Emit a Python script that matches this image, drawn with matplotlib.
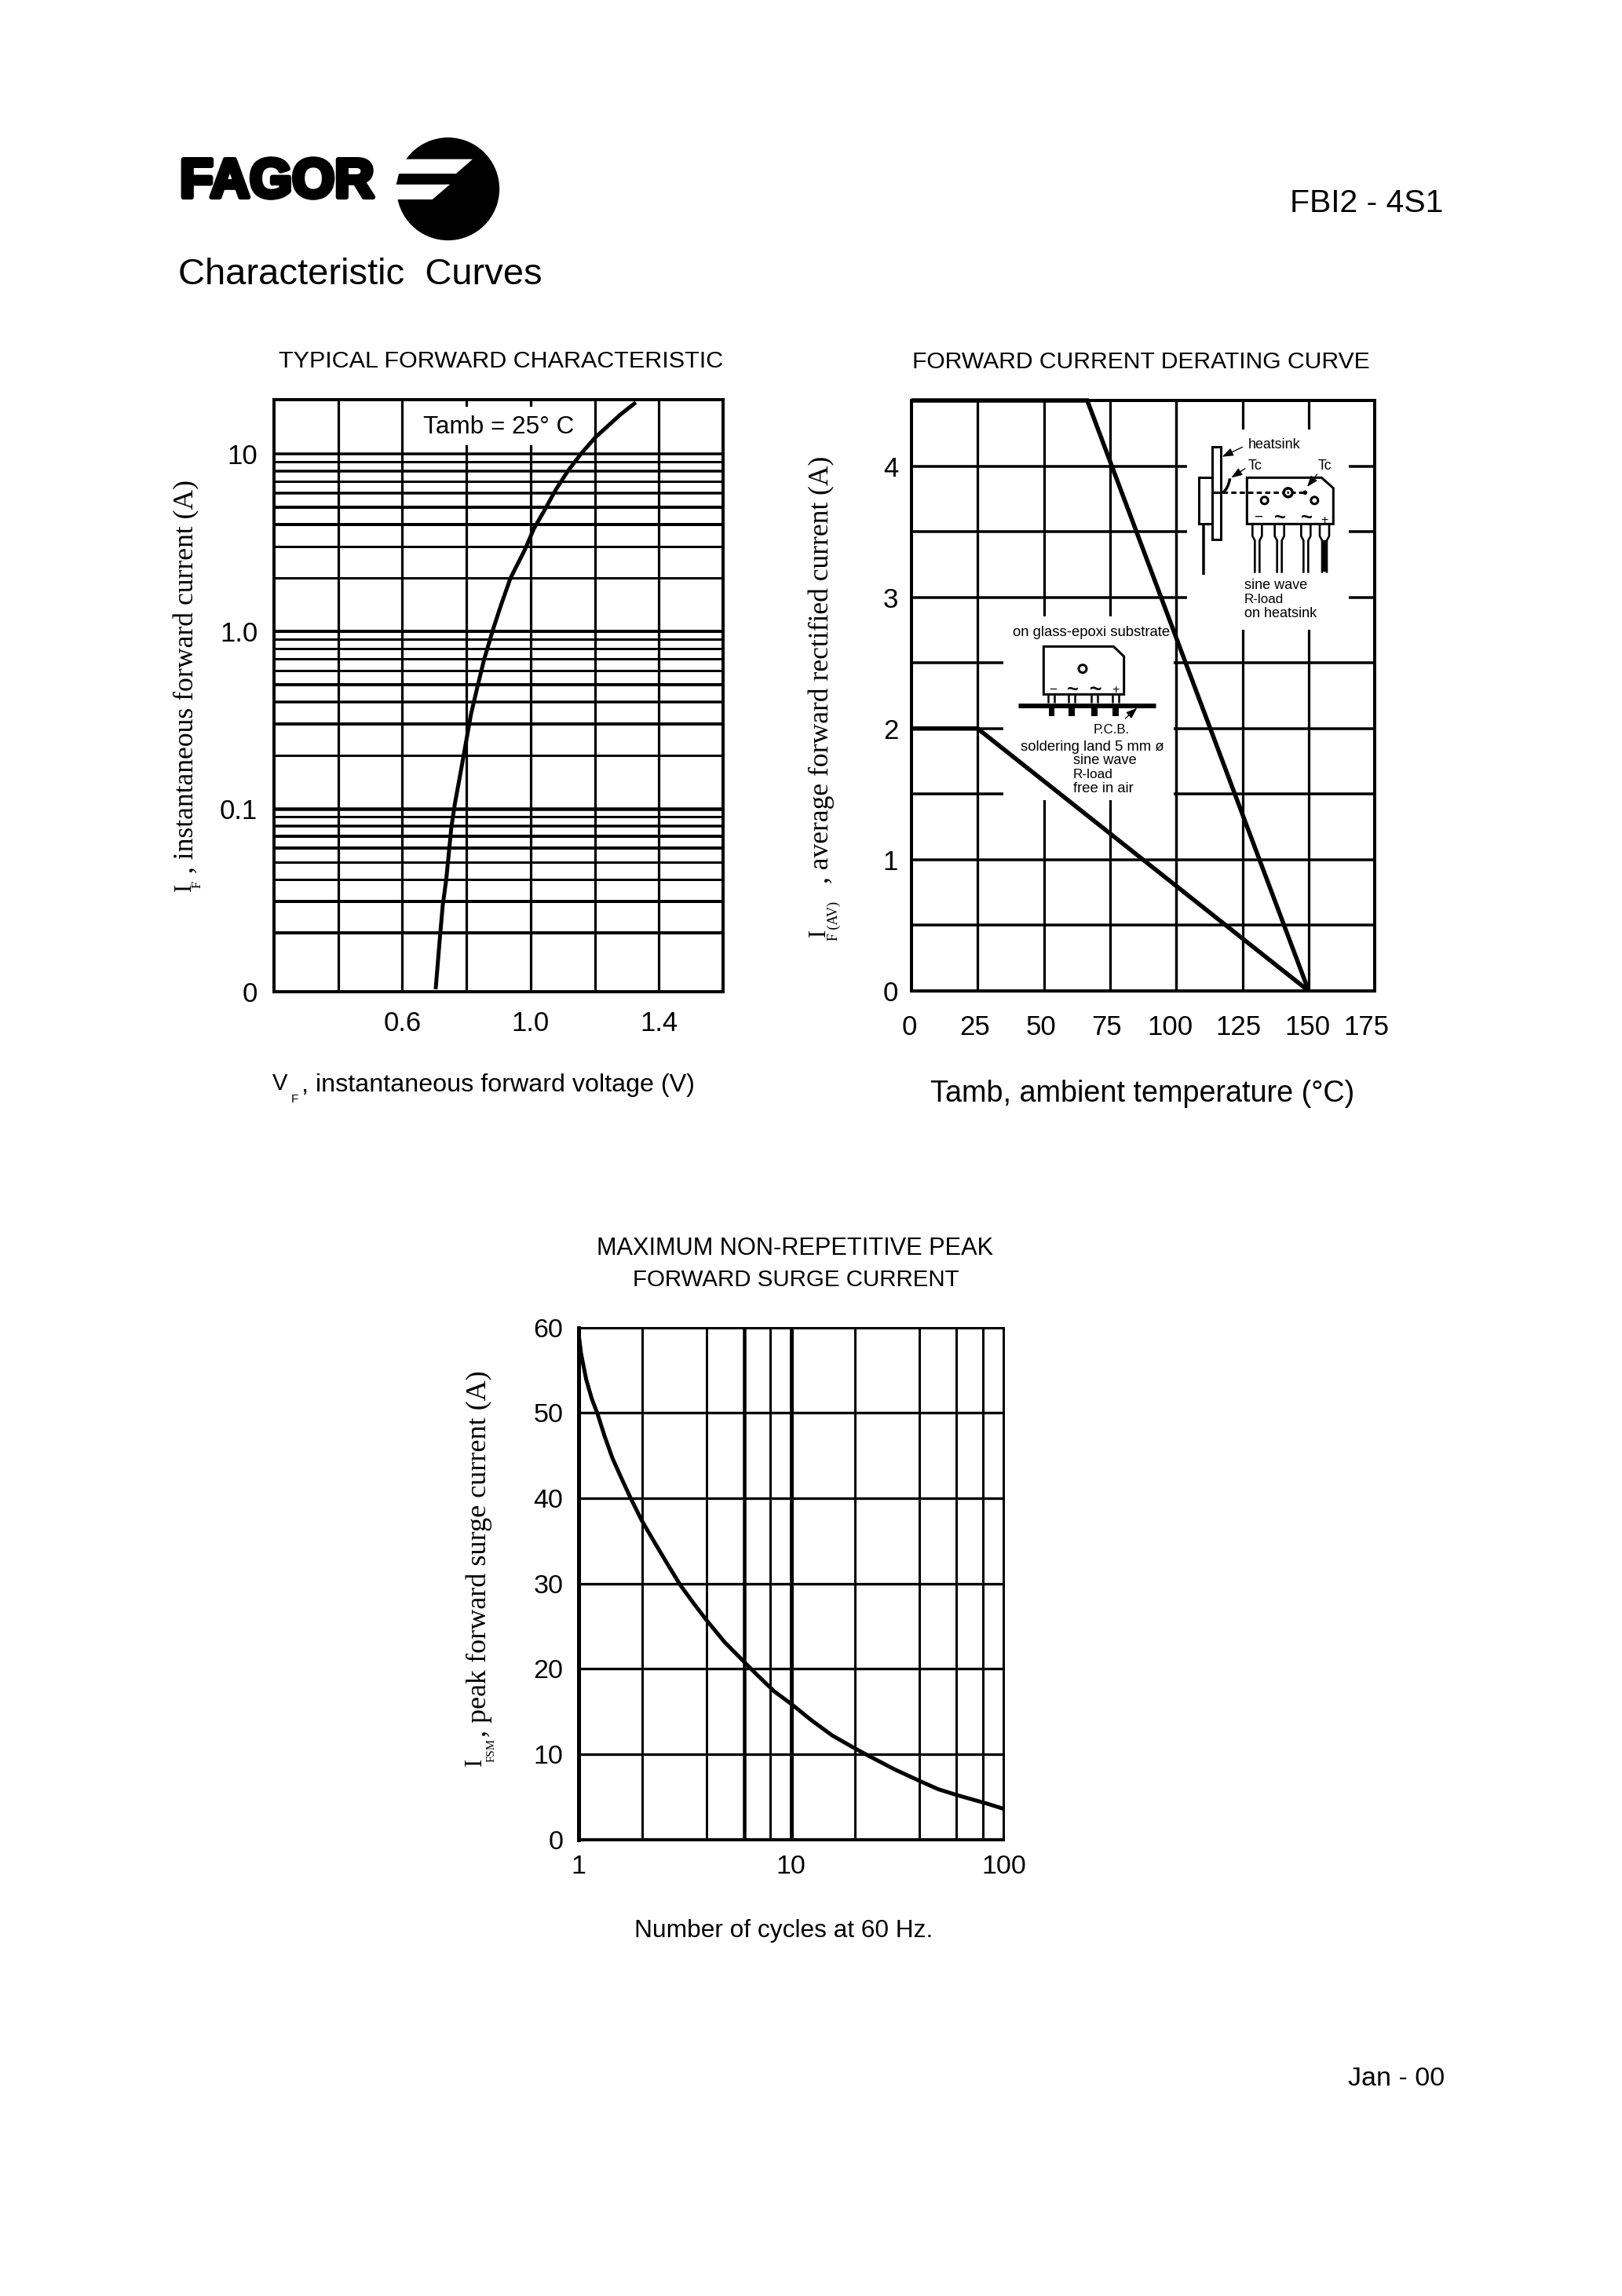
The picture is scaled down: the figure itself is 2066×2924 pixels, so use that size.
import matplotlib
matplotlib.use("Agg")
import matplotlib.pyplot as plt
from matplotlib.patches import Rectangle, Polygon, Circle, PathPatch
from matplotlib.path import Path
from matplotlib.transforms import Affine2D
import matplotlib.patheffects as pe

W, H = 2066, 2924
SANS = "Liberation Sans"
SERIF = "Liberation Serif"

# ---- data: forward characteristic
vf_volts = [0.704, 0.716, 0.726, 0.737, 0.745, 0.753, 0.764, 0.782, 0.798, 0.814, 0.835,
            0.855, 0.884, 0.908, 0.937, 0.982, 1.01, 1.043, 1.079, 1.116, 1.157, 1.202,
            1.238, 1.279, 1.328]
if_amps = [0.0096, 0.0177, 0.0285, 0.04, 0.0561, 0.0789, 0.107, 0.161, 0.234, 0.34, 0.493,
           0.693, 1.04, 1.41, 1.99, 2.88, 3.78, 4.8, 6.3, 8.0, 10, 12.4,
           14.2, 16.6, 19.5]
fwd_x_grid = [0.4, 0.6, 0.8, 1.0, 1.2, 1.4]
fwd_y_grid = [10, 9, 8, 7, 6, 5, 4, 3, 2, 1, .9, .8, .7, .6, .5, .4, .3, .2,
              .1, .09, .08, .07, .06, .05, .04, .03, .02]
fwd_y_grid_px = [3.5, 3, 3.5, 3, 3.5, 4, 4, 3, 3, 4, 3, 3, 3, 3, 4, 3.5, 4, 3,
                 4.5, 3, 3.5, 4, 4, 3, 3, 4, 4]
fwd_xticks = [0.6, 1.0, 1.4]
fwd_xticklabels = ["0.6", "1.0", "1.4"]
fwd_yticks = [10, 1, 0.1, 0.0093]
fwd_yticklabels = ["10", "1.0", "0.1", "0"]

# ---- data: derating
heatsink_temp = [0, 66.4, 150]
heatsink_amps = [4.5, 4.5, 0]
free_air_temp = [0, 25, 150]
free_air_amps = [2, 2, 0]
der_x_ticks = [0, 25, 50, 75, 100, 125, 150, 175]
der_x_label_px = [1158, 1242, 1326, 1410, 1490, 1577, 1665, 1740]
der_y_grid = [.5, 1, 1.5, 2, 2.5, 3, 3.5, 4]
der_y_ticks = [0, 1, 2, 3, 4]

# ---- data: surge
cycles = [1, 1.026, 1.086, 1.155, 1.227, 1.324, 1.442, 1.593, 1.758, 1.98, 2.267, 2.616,
          3.014, 3.472, 4.0, 4.877, 6.02, 6.85, 8.29, 10, 12.43, 15.6, 19.9, 23.2, 30.8,
          40, 49.2, 60.5, 83.8, 100]
surge_amps = [59.3, 57.0, 53.9, 51.6, 49.9, 47.3, 44.7, 42.3, 40.0, 37.4, 34.9, 32.3,
              29.8, 27.7, 25.7, 23.1, 20.8, 19.4, 17.4, 15.9, 14.0, 12.2, 10.7, 9.8, 8.2,
              6.9, 5.9, 5.2, 4.2, 3.6]
surge_x_grid = [2, 4, 6, 8, 10, 20, 40, 60, 80]
surge_x_grid_px = [3, 3, 4.5, 3, 5, 3, 3, 3, 3]
surge_y_ticks = [0, 10, 20, 30, 40, 50, 60]
surge_x_ticks = [1, 10, 100]

fig = plt.figure(figsize=(W / 100, H / 100), dpi=100, facecolor="white")
renderer = fig.canvas.get_renderer()


def pt(px):
    return px * 72 / 100


def make_ax(x0, x1, y0, y1):
    a = fig.add_axes([x0 / W, 1 - y1 / H, (x1 - x0) / W, (y1 - y0) / H])
    for s in a.spines.values():
        s.set_linewidth(pt(4))
        s.set_zorder(2.5)
    return a


def style_ticks(a, padx, pady, size=25):
    a.tick_params(axis="both", which="both", length=0, labelsize=size)
    a.tick_params(axis="x", pad=padx)
    a.tick_params(axis="y", pad=pady)
    for lab in a.get_xticklabels() + a.get_yticklabels():
        lab.set_fontfamily(SANS)


# ---------- forward characteristic
ax1 = make_ax(349, 921, 508.5, 1263)
ax1.set_yscale("log")
ax1.set_xlim(0.2, 1.6)
ax1.set_ylim(0.0093, 20.3)
for v in fwd_x_grid:
    ax1.axvline(v, color="k", lw=pt(3.2), zorder=1)
for v, w in zip(fwd_y_grid, fwd_y_grid_px):
    ax1.axhline(v, color="k", lw=pt(w), zorder=1)
ax1.add_patch(Rectangle((520, H - 567), 232, 49, transform=None, fc="white", ec="none", zorder=2))
ax1.plot(vf_volts, if_amps, color="k", lw=pt(5), zorder=3, solid_capstyle="butt")
ax1.set_xticks(fwd_xticks, fwd_xticklabels)
ax1.set_yticks(fwd_yticks, fwd_yticklabels)
ax1.minorticks_off()
style_ticks(ax1, 17, 15)

# ---------- derating
ax2 = make_ax(1160.8, 1751.3, 510, 1262)
ax2.set_xlim(0, 175)
ax2.set_ylim(0, 4.5)
for v in der_x_ticks[1:-1]:
    ax2.axvline(v, color="k", lw=pt(3.2), zorder=1)
for v in der_y_grid:
    ax2.axhline(v, color="k", lw=pt(3.5), zorder=1)
ax2.add_patch(Rectangle((1512, H - 802), 206, 255, transform=None, fc="white", ec="none", zorder=2))
ax2.add_patch(Rectangle((1278, H - 1019), 217, 234, transform=None, fc="white", ec="none", zorder=2))
ax2.axvline(100, color="k", lw=pt(3.2), zorder=2.2)
ax2.plot(heatsink_temp, heatsink_amps, color="k", lw=pt(5.5), zorder=3, clip_on=False,
         solid_joinstyle="miter", solid_capstyle="butt")
ax2.plot(free_air_temp, free_air_amps, color="k", lw=pt(5.5), zorder=3,
         solid_joinstyle="miter", solid_capstyle="butt")
ax2.set_xticks(der_x_ticks, [""] * len(der_x_ticks))
ax2.set_yticks(der_y_ticks, [str(v) for v in der_y_ticks])
style_ticks(ax2, 20, 12)

# ---------- surge
ax3 = make_ax(737, 1278.4, 1690.6, 2342.7)
ax3.set_xscale("log")
ax3.set_xlim(1, 100)
ax3.set_ylim(0, 60)
for v, w in zip(surge_x_grid, surge_x_grid_px):
    ax3.axvline(v, color="k", lw=pt(w), zorder=1)
for v in surge_y_ticks[1:-1]:
    ax3.axhline(v, color="k", lw=pt(3.3), zorder=1)
ax3.plot(cycles, surge_amps, color="k", lw=pt(5), zorder=3)
ax3.set_xticks(surge_x_ticks, [str(v) for v in surge_x_ticks])
ax3.set_yticks(surge_y_ticks, [str(v) for v in surge_y_ticks])
ax3.minorticks_off()
style_ticks(ax3, 14, 14, 24.5)
for s in ("top", "right"):
    ax3.spines[s].set_linewidth(pt(3))
ax3.spines["left"].set_linewidth(pt(5))

# ---------- overlay in pixels
ov = fig.add_axes([0, 0, 1, 1], zorder=10)
ov.set_xlim(0, W)
ov.set_ylim(H, 0)
ov.axis("off")
ov.patch.set_alpha(0)


def fit(s, a, b, c, vertical=False, family=SANS, **kw):
    """Text fitted between a and b along its direction, centred at c across it."""
    if vertical:
        t = ov.text(c, (a + b) / 2, s, rotation=90, ha="center", va="center",
                    family=family, fontsize=20, color="k", **kw)
        ext = t.get_window_extent(renderer).height
    else:
        t = ov.text((a + b) / 2, c, s, ha="center", va="center",
                    family=family, fontsize=20, color="k", **kw)
        ext = t.get_window_extent(renderer).width
    t.set_fontsize(20 * abs(b - a) / ext)
    return t


def fixed(s, x, y, size, vertical=False, family=SANS):
    return ov.text(x, y, s, rotation=90 if vertical else 0, ha="center", va="center",
                   family=family, fontsize=size, color="k")


def poly(points, fc="none", lw=3, closed=True, z=2):
    ov.add_patch(Polygon(points, closed=closed, fc=fc, ec="k" if lw else "none",
                         lw=pt(lw), zorder=z, joinstyle="miter"))


def seg(p, q, lw=3, **kw):
    ov.plot([p[0], q[0]], [p[1], q[1]], color="k", lw=pt(lw), solid_capstyle="butt", **kw)


def arrow(p, q):
    ov.annotate("", xy=q, xytext=p,
                arrowprops=dict(arrowstyle="-|>,head_width=0.22,head_length=0.6", color="k",
                                lw=pt(1.3), shrinkA=0, shrinkB=0, mutation_scale=14))


# logo
def Z1(x, y):
    return (200 + x / 2.01, 150 + y / 2.24)


fit("FAGOR", 229, 476, 233, family=SANS, fontweight="bold",
    path_effects=[pe.withStroke(linewidth=4.5, foreground="k")])
cx, cy = Z1(745, 203)
ov.add_patch(Circle((cx, cy), 65.5, fc="k", ec="none", zorder=1))
poly([Z1(590, 118), Z1(808, 118), Z1(765, 160), Z1(590, 160)], fc="white", lw=0, z=1.1)
poly([Z1(590, 190), Z1(750, 190), Z1(705, 233), Z1(590, 233)], fc="white", lw=0, z=1.1)
poly([Z1(622, 160), Z1(765, 160), Z1(738, 190), Z1(612, 190)], fc="k", lw=0, z=1.2)

# headers
fit("Characteristic  Curves", 228, 690, 350)
fit("FBI2 - 4S1", 1643, 1838, 259)
fit("Jan - 00", 1717, 1840, 2647)

# chart 1 text
fit("TYPICAL FORWARD CHARACTERISTIC", 356, 921, 460)
fit("Tamb = 25° C", 539, 731, 544)
fixed("V", 357, 1380, 21)
fixed("F", 375, 1400, 11)
fit(", instantaneous forward voltage (V)", 385, 884, 1382)
fixed("I", 235, 1130, 22, vertical=True, family=SERIF)
fixed("F", 252, 1126, 12, vertical=True, family=SERIF)
fit(", instantaneous forward current (A)", 1112, 610, 238, vertical=True, family=SERIF)

# chart 2 text
fit("FORWARD CURRENT DERATING CURVE", 1163, 1744, 461)
fit("Tamb, ambient temperature (°C)", 1186, 1725, 1393)
for v, xp in zip(der_x_ticks, der_x_label_px):
    fixed(str(v), xp, 1308, 25)
fixed("I", 1043, 1188, 22, vertical=True, family=SERIF)
fit("F (AV)", 1198, 1148, 1062, vertical=True, family=SERIF)
fit(", average forward rectified current (A)", 1125, 580, 1046, vertical=True, family=SERIF)

# chart 3 text
fit("MAXIMUM NON-REPETITIVE PEAK", 760, 1265, 1590)
fit("FORWARD SURGE CURRENT", 806, 1221, 1630)
fit("Number of cycles at 60 Hz.", 809, 1188, 2459)
fixed("I", 605, 2244, 22, vertical=True, family=SERIF)
fit("FSM", 2244, 2214, 626, vertical=True, family=SERIF)
fit(", peak forward surge current (A)", 2212, 1745, 610, vertical=True, family=SERIF)


# left inset (zoom coordinates)
def L(x, y):
    return (1240 + x / 3, 770 + y / 3)


fit("on glass-epoxi substrate", 1290, 1490, 806)
poly([L(268, 160), L(535, 160), L(575, 198), L(575, 343), L(268, 343)])
ov.add_patch(Circle(L(417, 245), 5, fc="none", ec="k", lw=pt(3)))
for px_ in (298, 375, 462, 543):
    seg(L(px_ - 12, 345), L(px_ - 12, 376), 2.5)
    seg(L(px_ + 12, 345), L(px_ + 12, 376), 2.5)
    ov.add_patch(Rectangle(L(px_ - 11, 397), 22 / 3, 28 / 3, fc="k", ec="none"))
seg(L(172, 380), L(695, 380), 3)
seg(L(172, 391), L(695, 391), 3)
for s_, xa, xb in (("−", 288, 318), ("~", 358, 402), ("~", 445, 492), ("+", 530, 558)):
    fit(s_, *[L(v, 0)[0] for v in (xa, xb)], L(0, 327)[1], fontweight="bold" if s_ == "~" else "normal")
arrow(L(580, 435), L(625, 395))
fit("P.C.B.", *[L(v, 0)[0] for v in (457, 595)], L(0, 480)[1])
fit("soldering land 5 mm ø", *[L(v, 0)[0] for v in (178, 728)], L(0, 545)[1])
fit("sine wave", *[L(v, 0)[0] for v in (380, 622)], L(0, 595)[1])
fit("R-load", *[L(v, 0)[0] for v in (380, 532)], L(0, 650)[1])
fit("free in air", *[L(v, 0)[0] for v in (380, 610)], L(0, 703)[1])


# right inset (zoom coordinates)
def R(x, y):
    return (1500 + x / 3, 540 + y / 3)


poly([R(132, 88), R(165, 88), R(165, 440), R(132, 440)])
poly([R(82, 205), R(132, 205), R(132, 382), R(82, 382)])
seg(R(98, 382), R(98, 575), 3.5)
poly([R(265, 205), R(550, 205), R(595, 245), R(595, 382), R(265, 382)])
ov.plot(*zip(R(135, 262), R(172, 262)), color="k", lw=pt(3), solid_capstyle="butt")
ov.plot(*zip(R(172, 262), R(490, 262)), color="k", lw=pt(3), linestyle=(0, (2.2, 1.4)))
ov.add_patch(Circle(R(422, 262), 5.5, fc="white", ec="k", lw=pt(3.5), zorder=3))
ov.add_patch(Circle(R(422, 262), 1.5, fc="k", ec="none", zorder=3.1))
ov.add_patch(Circle(R(332, 292), 4.5, fc="white", ec="k", lw=pt(3), zorder=3))
ov.add_patch(Circle(R(523, 292), 4.5, fc="white", ec="k", lw=pt(3), zorder=3))
ov.add_patch(Circle(R(487, 262), 2.8, fc="k", ec="none", zorder=3))
ov.add_patch(PathPatch(Path([R(172, 262), R(192, 250), R(200, 208)],
                           [Path.MOVETO, Path.CURVE3, Path.CURVE3]),
                       fc="none", ec="k", lw=pt(3.5)))
for px_, solid in ((304, False), (389, False), (490, False), (561, True)):
    for sgn in (-1, 1):
        ov.plot(*zip(R(px_ + sgn * 18, 382), R(px_ + sgn * 18, 428),
                     R(px_ + sgn * 9, 445), R(px_ + sgn * 9, 565)),
                color="k", lw=pt(2.6), solid_joinstyle="miter")
    if solid:
        ov.add_patch(Rectangle(R(px_ - 10, 445), 20 / 3, 120 / 3, fc="k", ec="none"))
for s_, xa, xb, yy in (("−", 292, 325, 358), ("~", 370, 415, 360), ("~", 470, 515, 360), ("+", 546, 574, 368)):
    fit(s_, *[R(v, 0)[0] for v in (xa, xb)], R(0, yy)[1], fontweight="bold" if s_ == "~" else "normal")
arrow(R(248, 88), R(170, 125))
arrow(R(258, 170), R(205, 205))
arrow(R(533, 192), R(495, 240))
fit("heatsink", *[R(v, 0)[0] for v in (270, 470)], R(0, 80)[1])
fit("Tc", *[R(v, 0)[0] for v in (268, 322)], R(0, 160)[1])
fit("Tc", *[R(v, 0)[0] for v in (535, 588)], R(0, 160)[1])
fit("sine wave", *[R(v, 0)[0] for v in (255, 495)], R(0, 617)[1])
fit("R-load", *[R(v, 0)[0] for v in (255, 405)], R(0, 670)[1])
fit("on heatsink", *[R(v, 0)[0] for v in (255, 530)], R(0, 725)[1])

fig.savefig("out.png", dpi=100, facecolor="white")
